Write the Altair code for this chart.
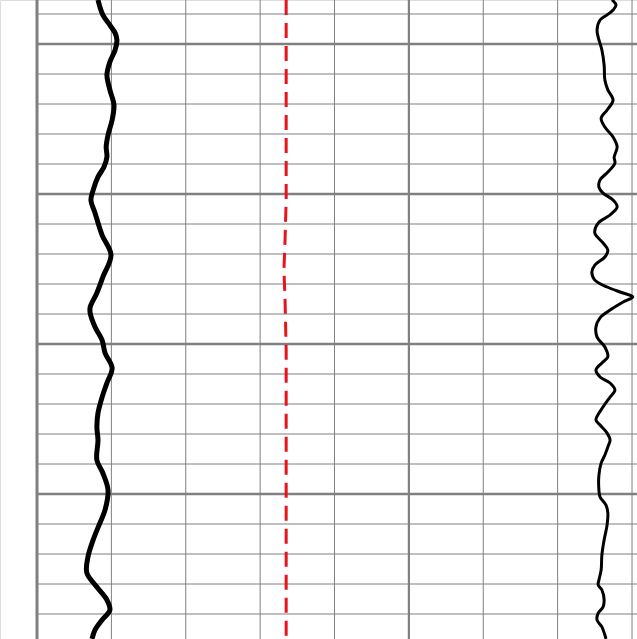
import altair as alt
import pandas as pd

# Track scale: value units (grid every 20), depth units (grid every 10)
x_ticks = [0, 20, 40, 60, 80, 100, 120, 140, 160]
x_thick = [100]
x_edge = [0]
depth_ticks = [990, 1000, 1010, 1020, 1030, 1040, 1050, 1060, 1070, 1080, 1090,
               1100, 1110, 1120, 1130, 1140, 1150, 1160, 1170, 1180, 1190]
depth_thick = [1000, 1050, 1100, 1150]

# Curve 1 (thick black, left)
c1_depth = [985.3, 990.3, 993.7, 996.3, 998.7, 1002.0, 1006.0, 1010.3, 1015.3, 1020.3,
            1025.3, 1030.3, 1034.3, 1037.7, 1041.0, 1044.3, 1048.7, 1052.0, 1056.3, 1063.7,
            1070.3, 1077.7, 1083.0, 1087.7, 1089.7, 1094.3, 1098.7, 1103.0, 1108.0, 1113.0,
            1117.7, 1123.0, 1127.7, 1132.0, 1138.7, 1143.0, 1148.7, 1155.3, 1159.7, 1165.3,
            1171.0, 1176.3, 1181.0, 1185.3, 1188.7, 1192.0, 1195.3, 1198.3]
c1_value = [16.4, 17.7, 19.6, 21.0, 21.5, 21.0, 19.6, 18.8, 19.6, 20.7,
            20.2, 19.1, 18.6, 18.8, 18.0, 16.4, 15.1, 14.5, 15.6, 17.5,
            19.9, 17.7, 16.1, 14.3, 14.3, 15.6, 17.5, 18.3, 20.2, 18.8,
            17.5, 16.4, 16.1, 16.4, 16.1, 17.7, 19.1, 18.3, 16.9, 15.1,
            13.7, 13.4, 16.1, 18.8, 19.6, 17.5, 15.6, 14.8]

# Curve 2 (thin black, right)
c2_depth = [985.3, 987.0, 988.7, 990.3, 992.0, 995.3, 997.7, 1002.0, 1007.0, 1012.0,
            1015.3, 1018.7, 1022.0, 1024.7, 1027.7, 1031.0, 1034.3, 1037.7, 1039.7, 1042.7,
            1045.3, 1047.7, 1049.7, 1052.0, 1054.3, 1057.0, 1059.7, 1063.0, 1066.3, 1068.7,
            1071.0, 1073.7, 1076.0, 1078.7, 1081.0, 1083.0, 1084.3, 1086.0, 1088.7, 1091.3,
            1094.3, 1097.7, 1101.0, 1104.3, 1106.3, 1108.7, 1111.0, 1113.0, 1115.3, 1117.7,
            1121.0, 1125.3, 1127.0, 1129.7, 1132.0, 1134.3, 1137.0, 1139.7, 1143.7, 1148.7,
            1151.0, 1153.7, 1156.3, 1160.3, 1165.3, 1170.3, 1175.3, 1178.7, 1180.3, 1182.0,
            1185.3, 1187.7, 1189.7, 1192.0, 1194.3, 1197.0, 1198.3]
c2_value = [154.6, 155.7, 154.9, 153.3, 151.4, 150.6, 150.9, 151.9, 152.5, 152.7,
            153.5, 154.9, 153.3, 151.7, 152.7, 154.9, 156.0, 155.2, 155.4, 153.5,
            151.4, 151.1, 152.2, 154.9, 156.0, 154.1, 150.9, 150.0, 152.2, 153.5,
            152.7, 150.0, 149.2, 150.0, 153.3, 157.6, 160.2, 157.6, 154.1, 151.4,
            150.3, 150.6, 152.7, 153.5, 151.9, 150.3, 151.4, 154.1, 155.4, 154.1,
            152.2, 150.3, 151.4, 153.3, 154.1, 153.5, 152.7, 151.7, 151.1, 151.1,
            151.4, 153.0, 153.5, 153.3, 152.5, 151.9, 151.7, 151.1, 150.9, 151.9,
            152.5, 152.2, 150.9, 150.6, 151.9, 152.7, 153.0]

# Red dashed reference curve
c3_depth = [985.3, 1035.3, 1052.0, 1065.3, 1075.3, 1085.3, 1102.0, 1198.3]
c3_value = [67.0, 67.0, 67.0, 66.7, 66.4, 66.7, 67.0, 67.0]

X_DOMAIN = [-9.95, 161.34]
Y_DOMAIN = [985.333, 1198.333]
GRID = "#808080"

xs = alt.Scale(domain=X_DOMAIN, nice=False, zero=False)
ys = alt.Scale(domain=Y_DOMAIN, nice=False, zero=False, reverse=True)

vthin = pd.DataFrame({"v": [v for v in x_ticks if v not in x_thick + x_edge]})
vthick = pd.DataFrame({"v": x_thick})
vedge = pd.DataFrame({"v": x_edge})
hthin = pd.DataFrame({"d": [d for d in depth_ticks if d not in depth_thick],
                      "x0": x_ticks[0], "x1": X_DOMAIN[1]})
hthick = pd.DataFrame({"d": depth_thick, "x0": x_ticks[0], "x1": X_DOMAIN[1]})

def vrule(df, w):
    return alt.Chart(df).mark_rule(color=GRID, strokeWidth=w).encode(
        x=alt.X("v:Q", scale=xs, axis=None))

def hrule(df, w):
    return alt.Chart(df).mark_rule(color=GRID, strokeWidth=w).encode(
        y=alt.Y("d:Q", scale=ys, axis=None),
        x=alt.X("x0:Q", scale=xs, axis=None), x2="x1:Q")

df1 = pd.DataFrame({"depth": c1_depth, "value": c1_value})
df2 = pd.DataFrame({"depth": c2_depth, "value": c2_value})
df3 = pd.DataFrame({"depth": c3_depth, "value": c3_value})

def curve(df, **mark):
    return alt.Chart(df).mark_line(clip=True, **mark).encode(
        x=alt.X("value:Q", scale=xs, axis=None),
        y=alt.Y("depth:Q", scale=ys, axis=None),
        order=alt.Order("depth:Q"),
    )

line1 = curve(df1, color="#000000", strokeWidth=5, interpolate="catmull-rom")
line2 = curve(df2, color="#000000", strokeWidth=3, interpolate="catmull-rom")
line3 = curve(df3, color="#e8141c", strokeWidth=3, strokeDash=[15, 8], interpolate="linear")

chart = alt.layer(
    hrule(hthin, 1), vrule(vthin, 1), hrule(hthick, 2.5), vrule(vthick, 2.2),
    vrule(vedge, 3), line3, line2, line1
).properties(
    width=637, height=639, padding=0, autosize=alt.AutoSizeParams(type="none")
).configure_view(stroke=None).configure(background="white")

chart.save("out.html", embed_options={"renderer": "svg", "actions": False})
